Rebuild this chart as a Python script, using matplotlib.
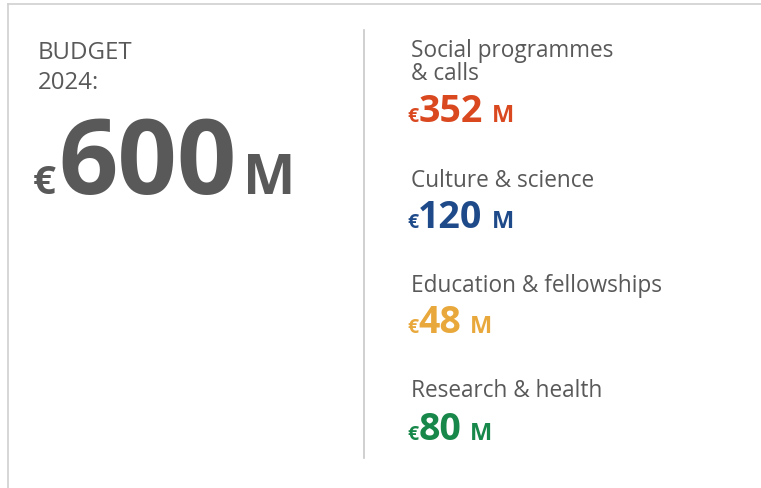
import matplotlib.pyplot as plt

# ----------------------------------------------------------
# DATOS
# ----------------------------------------------------------
total_label = ["BUDGET", "2024:"]
total_value = 600
categorias = ["Social programmes\n& calls", "Culture & science",
              "Education & fellowships", "Research & health"]
valores = [352, 120, 48, 80]
colores = ["#D9481F", "#1F4A8A", "#E9A83C", "#17884A"]

GRIS = "#595959"
FUENTE = ["Open Sans", "DejaVu Sans"]

# ----------------------------------------------------------
# LIENZO EN PÍXELES
# ----------------------------------------------------------
fig = plt.figure(figsize=(7.61, 4.88), dpi=100)
ax = fig.add_axes([0, 0, 1, 1])
ax.set_xlim(0, 761)
ax.set_ylim(488, 0)
ax.axis("off")

# marco y separador
ax.plot([8, 761], [4, 4], color="#D0D0D0", linewidth=1.2)
ax.plot([8, 8], [4, 488], color="#D0D0D0", linewidth=1.2)
ax.plot([364, 364], [30, 458], color="#C8C8C8", linewidth=1.2)

fig.canvas.draw()
renderer = fig.canvas.get_renderer()


def ancho_px(t):
    bb = t.get_window_extent(renderer=renderer)
    return bb.width


def importe(x, y, valor, color, s_euro, s_num, s_m, hueco_euro, hueco):
    t1 = ax.text(x, y, "€", fontsize=s_euro, fontweight="bold", color=color,
                 family=FUENTE, va="baseline", ha="left")
    x += ancho_px(t1) + hueco_euro
    t2 = ax.text(x, y, f"{valor}", fontsize=s_num, fontweight="bold", color=color,
                 family=FUENTE, va="baseline", ha="left")
    x += ancho_px(t2) + hueco
    ax.text(x, y, "M", fontsize=s_m, fontweight="bold", color=color,
            family=FUENTE, va="baseline", ha="left")


# ----------------------------------------------------------
# BLOQUE IZQUIERDO: total
# ----------------------------------------------------------
ax.text(38, 59, total_label[0], fontsize=17.3, color=GRIS, family=FUENTE, va="baseline")
ax.text(38, 89, total_label[1], fontsize=17.3, color=GRIS, family=FUENTE, va="baseline")
importe(33, 194, total_value, GRIS, 29, 75, 40, 2, 7)

# ----------------------------------------------------------
# BLOQUE DERECHO: categorías
# ----------------------------------------------------------
base_etiqueta = [57, 187, 292, 397]
base_importe = [122, 228, 333, 440]
for cat, val, col, yl, yv in zip(categorias, valores, colores, base_etiqueta, base_importe):
    lineas = cat.split("\n")
    for i, linea in enumerate(lineas):
        ax.text(411, yl + i * 23, linea, fontsize=16.3, color=GRIS, family=FUENTE,
                va="baseline")
    importe(407, yv, val, col, 14, 27, 17, 0, 9)

plt.savefig("out.png", dpi=100)
